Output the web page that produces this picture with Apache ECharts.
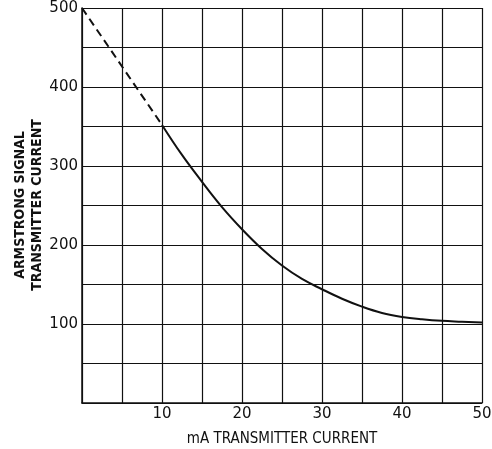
<!DOCTYPE html>
<html>
<head>
<meta charset="utf-8">
<script src="https://cdn.jsdelivr.net/npm/echarts@6/dist/echarts.min.js"></script>
<style>
  html, body { margin: 0; padding: 0; background: #fff; }
  #chart { width: 492px; height: 449px; }
</style>
</head>
<body>
<div id="chart"></div>
<script>
// Extrapolated portion of the curve (dashed)
const dashedX = [0, 10];
const dashedY = [500, 352];

// Measured portion of the curve (solid)
const solidX = [10, 12.5, 15, 17.5, 20, 22.5, 25, 27.5, 30, 32.5, 35, 37.5, 40, 42.5, 45, 47.5, 50];
const solidY = [352, 314, 280, 248, 220, 195, 174, 157, 144, 132, 122, 114, 109, 106, 104, 103, 102];

const xTicks = [10, 20, 30, 40, 50];
const yTicks = [100, 200, 300, 400, 500];

const yTitle = 'ARMSTRONG SIGNAL\nTRANSMITTER CURRENT';
const xTitle = 'mA TRANSMITTER CURRENT';

const pair = (xs, ys) => xs.map((x, i) => [x, ys[i]]);

const ink = '#111';
const narrow = "'DejaVu Sans Condensed', 'Liberation Sans Narrow', 'Liberation Sans', sans-serif";
const labelFont = { color: ink, fontFamily: "'DejaVu Sans', sans-serif", fontSize: 15 };

const chart = echarts.init(document.getElementById('chart'));
chart.setOption({
  animation: false,
  grid: { left: 82, right: 10, top: 8, bottom: 46, containLabel: false, outerBoundsMode: 'none' },
  // Vertical axis title, drawn rotated beside the value labels
  graphic: [{
    type: 'text', x: 29, y: 205, rotation: Math.PI / 2,
    style: {
      text: yTitle, fill: ink, align: 'center', verticalAlign: 'middle',
      font: "bold 14px 'DejaVu Sans Condensed', 'Liberation Sans', sans-serif", lineHeight: 17
    }
  }],
  xAxis: {
    type: 'value', min: 0, max: 50, interval: 5,
    name: xTitle,
    nameLocation: 'middle', nameGap: 29,
    nameTextStyle: { color: ink, fontFamily: narrow, fontSize: 15 },
    axisLine: { lineStyle: { color: ink, width: 1.5 } },
    axisTick: { show: false },
    axisLabel: Object.assign({ margin: 4, formatter: v => xTicks.includes(v) ? String(v) : '' }, labelFont),
    splitLine: { show: true, lineStyle: { color: ink, width: 1.2 } }
  },
  yAxis: {
    type: 'value', min: 0, max: 500, interval: 50,
    axisLine: { show: true, lineStyle: { color: ink, width: 1.5 } },
    axisTick: { show: false },
    axisLabel: Object.assign({ margin: 4, formatter: v => yTicks.includes(v) ? String(v) : '' }, labelFont),
    splitLine: { show: true, lineStyle: { color: ink, width: 1.2 } }
  },
  series: [
    {
      type: 'line', data: pair(dashedX, dashedY), symbol: 'none',
      lineStyle: { color: ink, width: 2, type: [8, 5] }
    },
    {
      type: 'line', data: pair(solidX, solidY), symbol: 'none', smooth: 0.4,
      lineStyle: { color: ink, width: 2 }
    }
  ]
});
</script>
</body>
</html>
